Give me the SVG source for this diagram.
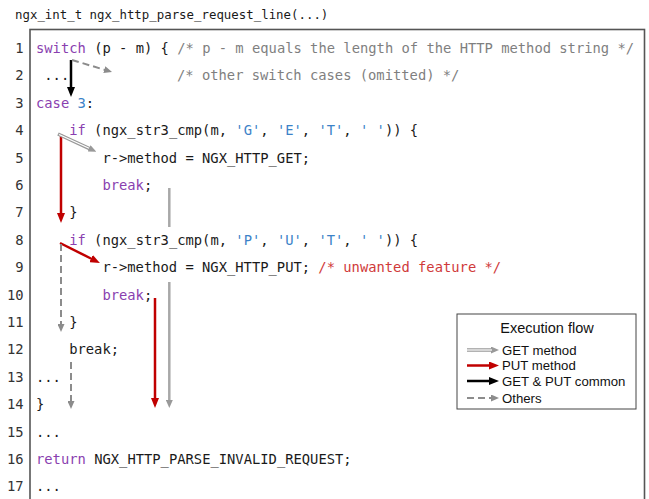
<svg xmlns="http://www.w3.org/2000/svg" width="649" height="499" viewBox="0 0 649 499">
<style>
  text { white-space: pre; }
  .code { font-family: "DejaVu Sans Mono", "Liberation Mono", monospace; font-size: 13.8px; fill: #1a1a1a; }
  .ln { font-family: "DejaVu Sans Mono", "Liberation Mono", monospace; font-size: 13.8px; fill: #333; text-anchor: end; }
  .title { font-family: "DejaVu Sans Mono", "Liberation Mono", monospace; font-size: 12.4px; fill: #1a1a1a; }
  .kw { fill: #8a3fb0; }
  .lit { fill: #3c82c8; }
  .cm { fill: #7f7f7f; }
  .cmr { fill: #d03a3a; }
  .leg { font-family: "Liberation Sans", Arial, sans-serif; font-size: 13.2px; fill: #111; }
  .legt { font-family: "Liberation Sans", Arial, sans-serif; font-size: 14.5px; fill: #111; text-anchor: middle; }
  .a-k { stroke: #000; stroke-width: 2.5; fill: none; marker-end: url(#ah-k); }
  .a-r { stroke: #c00000; stroke-width: 2.5; fill: none; marker-end: url(#ah-r); }
  .a-d { stroke: #8c8c8c; stroke-width: 2; fill: none; stroke-dasharray: 7 4; marker-end: url(#ah-d); }
  .a-g { stroke: #a8a8a8; stroke-width: 2.5; fill: none; }
  .a-go { stroke: #999; stroke-width: 3.5; fill: none; }
  .a-gi { stroke: #fff; stroke-width: 1.2; fill: none; }
</style>
<defs>
  <marker id="ah-k" markerUnits="userSpaceOnUse" markerWidth="10" markerHeight="8" refX="1" refY="4" orient="auto"><path d="M0,0 L10,4 L0,8 z" fill="#000"/></marker>
  <marker id="ah-r" markerUnits="userSpaceOnUse" markerWidth="10" markerHeight="8" refX="1" refY="4" orient="auto"><path d="M0,0 L10,4 L0,8 z" fill="#c00000"/></marker>
  <marker id="ah-d" markerUnits="userSpaceOnUse" markerWidth="8" markerHeight="7" refX="1" refY="3.5" orient="auto"><path d="M0,0 L8,3.5 L0,7 z" fill="#8c8c8c"/></marker>
  <marker id="ah-g" markerUnits="userSpaceOnUse" markerWidth="8" markerHeight="7" refX="1" refY="3.5" orient="auto"><path d="M0,0 L8,3.5 L0,7 z" fill="#999"/></marker>
</defs>
<rect width="649" height="499" fill="#fff"/>
<text class="title" x="15" y="18.5">ngx_int_t ngx_http_parse_request_line(...)</text>
<rect x="30" y="29.5" width="614.5" height="480" fill="none" stroke="#555" stroke-width="1.6"/>

<g id="line-numbers">
  <text class="ln" x="23.5" y="53">1</text>
  <text class="ln" x="23.5" y="80.4">2</text>
  <text class="ln" x="23.5" y="107.8">3</text>
  <text class="ln" x="23.5" y="135.2">4</text>
  <text class="ln" x="23.5" y="162.6">5</text>
  <text class="ln" x="23.5" y="190">6</text>
  <text class="ln" x="23.5" y="217.4">7</text>
  <text class="ln" x="23.5" y="244.8">8</text>
  <text class="ln" x="23.5" y="272.2">9</text>
  <text class="ln" x="23.5" y="299.6">10</text>
  <text class="ln" x="23.5" y="327">11</text>
  <text class="ln" x="23.5" y="354.4">12</text>
  <text class="ln" x="23.5" y="381.8">13</text>
  <text class="ln" x="23.5" y="409.2">14</text>
  <text class="ln" x="23.5" y="436.6">15</text>
  <text class="ln" x="23.5" y="464">16</text>
  <text class="ln" x="23.5" y="491.4">17</text>
</g>

<g id="code">
  <text class="code" x="36" y="53"><tspan class="kw">switch</tspan> (p - m) { <tspan class="cm">/* p - m equals the length of the HTTP method string */</tspan></text>
  <text class="code" x="44.3" y="80.4">...</text>
  <text class="code cm" x="177" y="80.4">/* other switch cases (omitted) */</text>
  <text class="code" x="36" y="107.8"><tspan class="kw">case</tspan> <tspan class="lit">3</tspan>:</text>
  <text class="code" x="69.2" y="135.2"><tspan class="kw">if</tspan> (ngx_str3_cmp(m, <tspan class="lit">'G'</tspan>, <tspan class="lit">'E'</tspan>, <tspan class="lit">'T'</tspan>, <tspan class="lit">' '</tspan>)) {</text>
  <text class="code" x="102.4" y="162.6">r-&gt;method = NGX_HTTP_GET;</text>
  <text class="code kw" x="102.4" y="190">break<tspan fill="#1a1a1a">;</tspan></text>
  <text class="code" x="69.2" y="217.4">}</text>
  <text class="code" x="69.2" y="244.8"><tspan class="kw">if</tspan> (ngx_str3_cmp(m, <tspan class="lit">'P'</tspan>, <tspan class="lit">'U'</tspan>, <tspan class="lit">'T'</tspan>, <tspan class="lit">' '</tspan>)) {</text>
  <text class="code" x="102.4" y="272.2">r-&gt;method = NGX_HTTP_PUT; <tspan class="cmr">/* unwanted feature */</tspan></text>
  <text class="code kw" x="102.4" y="299.6">break<tspan fill="#1a1a1a">;</tspan></text>
  <text class="code" x="69.2" y="327">}</text>
  <text class="code" x="69.2" y="354.4">break;</text>
  <text class="code" x="36" y="381.8">...</text>
  <text class="code" x="36" y="409.2">}</text>
  <text class="code" x="36" y="436.6">...</text>
  <text class="code" x="36" y="464"><tspan class="kw">return</tspan> NGX_HTTP_PARSE_INVALID_REQUEST;</text>
  <text class="code" x="36" y="491.4">...</text>
</g>

<g id="connectors">
  <line class="a-k" x1="71" y1="60" x2="71" y2="88"/>
  <line class="a-d" x1="72" y1="60" x2="105.3" y2="70"/>
  <line class="a-r" x1="61" y1="134" x2="61" y2="214"/>
  <line class="a-go" x1="58" y1="134" x2="90" y2="148.8" marker-end="url(#ah-g)"/>
  <line class="a-gi" x1="59" y1="134.5" x2="89" y2="148.3"/>
  <line class="a-g" x1="169.3" y1="188" x2="169.3" y2="227"/>
  <line class="a-g" x1="169.3" y1="282" x2="169.3" y2="401" marker-end="url(#ah-g)"/>
  <line class="a-r" x1="60" y1="243" x2="91.9" y2="259"/>
  <line class="a-d" x1="61" y1="244" x2="61" y2="325"/>
  <line class="a-r" x1="155" y1="298" x2="155" y2="399"/>
  <line class="a-d" x1="71" y1="362" x2="71" y2="402"/>
</g>

<g id="legend">
  <rect x="457" y="314" width="179" height="95" fill="#fff" stroke="#444" stroke-width="1"/>
  <text class="legt" x="547" y="333">Execution flow</text>
  <line class="a-go" x1="467" y1="350" x2="492" y2="350" marker-end="url(#ah-g)"/>
  <line class="a-gi" x1="467" y1="350" x2="492" y2="350"/>
  <text class="leg" x="502" y="354.5">GET method</text>
  <line class="a-r" x1="467" y1="365.5" x2="490" y2="365.5"/>
  <text class="leg" x="502" y="370">PUT method</text>
  <line class="a-k" x1="467" y1="381" x2="490" y2="381"/>
  <text class="leg" x="502" y="385.5">GET &amp; PUT common</text>
  <line class="a-d" x1="467" y1="398" x2="492" y2="398" stroke-dasharray="6 5"/>
  <text class="leg" x="502" y="402.5">Others</text>
</g>
</svg>
